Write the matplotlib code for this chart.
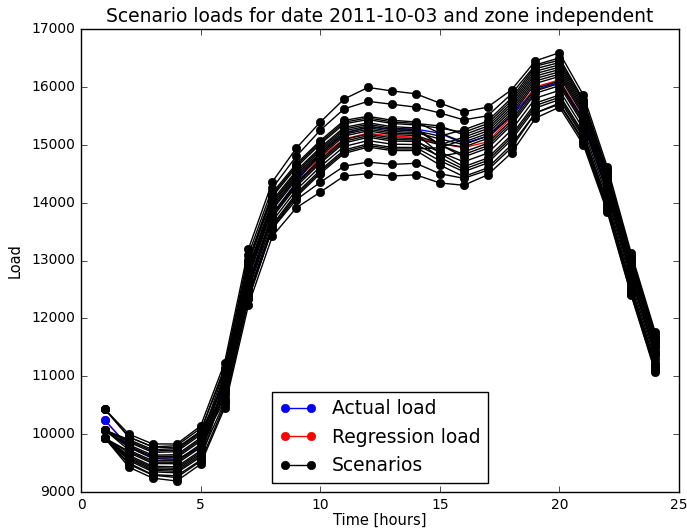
import matplotlib
matplotlib.use('Agg')
import matplotlib.pyplot as plt

hours = list(range(1, 25))

actual = [10240, 9780, 9580, 9560, 9780, 10800, 12500, 13800, 14350, 14860, 15190, 15310,
          15270, 15270, 15200, 15020, 15150, 15500, 15950, 16080, 15450, 14250, 12750, 11400]
regression = [10240, 9780, 9580, 9560, 9780, 10790, 12510, 13780, 14320, 14780, 15100, 15200,
              15150, 15130, 15020, 14950, 15050, 15480, 16000, 16120, 15450, 14250, 12760, 11420]

# one row per scenario, hours 1..24
scenarios = [
    [10430, 10000, 9830, 9830, 10140, 11230, 13200, 14360, 14940, 15390, 15790, 15990,
     15930, 15880, 15720, 15570, 15650, 15950, 16450, 16590, 15860, 14620, 13130, 11770],
    [10430, 9950, 9780, 9760, 10050, 11150, 13100, 14250, 14800, 15250, 15620, 15750,
     15700, 15650, 15550, 15430, 15500, 15880, 16380, 16500, 15780, 14560, 13080, 11720],
    [10070, 9905, 9732, 9748, 10045, 11120, 13015, 14168, 14670, 15070, 15420, 15492,
     15423, 15394, 15200, 15045, 15195, 15595, 16145, 16260, 15575, 14370, 12896, 11555],
    [9930, 9590, 9396, 9384, 9660, 11060, 12945, 14103, 14610, 15010, 15360, 15436,
     15368, 15342, 15288, 15215, 15365, 15765, 16315, 16420, 15725, 14510, 13032, 11685],
    [10070, 9770, 9588, 9592, 9880, 11000, 12875, 14038, 14550, 14950, 15300, 15380,
     15313, 15290, 15000, 14790, 14940, 15340, 15890, 16020, 15350, 14160, 12692, 11360],
    [9930, 9545, 9348, 9332, 9605, 10940, 12805, 13973, 14490, 14890, 15240, 15324,
     15258, 15238, 15150, 15258, 15408, 15808, 16358, 16460, 15762, 14545, 13066, 11718],
    [10070, 9860, 9684, 9696, 9990, 10880, 12735, 13908, 14430, 14830, 15180, 15268,
     15203, 15186, 14850, 14620, 14770, 15170, 15720, 15860, 15200, 14020, 12556, 11230],
    [9930, 9680, 9492, 9488, 9770, 10850, 12700, 13875, 14400, 14800, 15150, 15240,
     15175, 15160, 15025, 14960, 15110, 15510, 16060, 16180, 15500, 14300, 12828, 11490],
    [9930, 9500, 9300, 9280, 9550, 10790, 12630, 13810, 14340, 14740, 15090, 15184,
     15120, 15108, 15000, 15130, 15280, 15680, 16230, 16340, 15650, 14440, 12964, 11620],
    [10070, 9815, 9636, 9644, 9935, 10730, 12560, 13745, 14280, 14680, 15030, 15128,
     15065, 15056, 14875, 14705, 14855, 15255, 15805, 15940, 15275, 14090, 12624, 11295],
    [9930, 9635, 9444, 9436, 9715, 10670, 12490, 13680, 14220, 14620, 14970, 15072,
     15010, 15004, 14800, 14875, 15025, 15425, 15975, 16100, 15425, 14230, 12760, 11425],
    [10430, 9950, 9780, 9800, 10100, 10610, 12420, 13615, 14160, 14560, 14910, 15016,
     14955, 14952, 14725, 14535, 14685, 15085, 15635, 15780, 15125, 13950, 12488, 11165],
    [10070, 9725, 9540, 9540, 9825, 10580, 12385, 13583, 14130, 14530, 14880, 14988,
     14928, 14926, 14950, 15088, 15238, 15638, 16188, 16300, 15612, 14405, 12930, 11588],
    [9930, 9568, 9372, 9358, 9632, 10550, 12350, 13550, 14100, 14500, 14850, 14960,
     14900, 14900, 14650, 14450, 14600, 15000, 15550, 15700, 15050, 13880, 12420, 11100],
    [9930, 9703, 9516, 9514, 9798, 10970, 12840, 14005, 14520, 14920, 15270, 15352,
     15285, 15264, 15000, 14832, 14982, 15382, 15932, 16060, 15388, 14195, 12726, 11392],
    [10070, 9883, 9708, 9722, 10018, 10910, 12770, 13940, 14460, 14860, 15210, 15296,
     15230, 15212, 15100, 15002, 15152, 15552, 16102, 16220, 15538, 14335, 12862, 11522],
    [9930, 9612, 9420, 9410, 9688, 10760, 12595, 13778, 14310, 14710, 15060, 15156,
     15092, 15082, 14780, 14578, 14728, 15128, 15678, 15820, 15162, 13985, 12522, 11198],
    [10070, 9793, 9612, 9618, 9908, 11090, 12980, 14135, 14640, 15040, 15390, 15464,
     15395, 15368, 15325, 15172, 15322, 15722, 16272, 16380, 15688, 14475, 12998, 11652],
    [9930, 9480, 9290, 9250, 9530, 10500, 12330, 13550, 14050, 14350, 14630, 14700,
     14660, 14680, 14500, 14420, 14560, 14950, 15550, 15720, 15080, 13900, 12450, 11120],
    [9930, 9430, 9240, 9190, 9480, 10450, 12230, 13420, 13910, 14180, 14460, 14500,
     14460, 14480, 14340, 14300, 14480, 14860, 15460, 15650, 15000, 13840, 12400, 11080],
]

plt.style.use('classic')
fig = plt.figure(figsize=(6.87, 5.29), dpi=100, facecolor='white')
ax = fig.add_axes([81 / 687, 1 - 492 / 529, 598 / 687, 463 / 529])

ax.plot(hours, actual, 'o-', color='blue', markeredgecolor='blue', ms=6, lw=1,
        label='Actual load', zorder=3)
ax.plot(hours, regression, 'o-', color='red', markeredgecolor='red', ms=6, lw=1,
        label='Regression load', zorder=2.5)
for i, s in enumerate(scenarios):
    ax.plot(hours, s, 'o-', color='black', ms=6, lw=1, zorder=4,
            label='Scenarios' if i == 0 else None)

ax.set_xlim(0, 25)
ax.set_ylim(9000, 17000)
ax.tick_params(labelsize=10)
ax.set_xlabel('Time [hours]', fontsize=10.5, labelpad=1)
ax.set_ylabel('Load', fontsize=10.5, labelpad=6)
ax.set_title('Scenario loads for date 2011-10-03 and zone independent', fontsize=13.5)
ax.legend(loc='lower center', fontsize=13.5, numpoints=2)

fig.savefig('out.png', dpi=100, facecolor='white')
